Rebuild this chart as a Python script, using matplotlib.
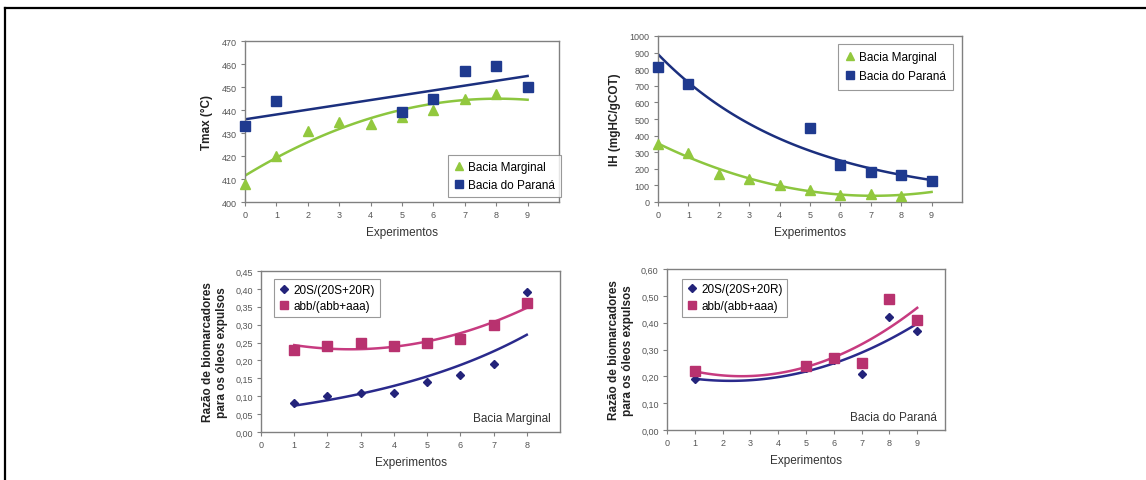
import numpy as np
import matplotlib
matplotlib.use("Agg")
import matplotlib.pyplot as plt
from matplotlib.lines import Line2D
from matplotlib.ticker import FuncFormatter

plt.rcParams['font.family'] = ['Liberation Sans', 'DejaVu Sans']

# ---------------- data ----------------
# Panel 1: Tmax
tmax_marg_x = [0, 1, 2, 3, 4, 5, 6, 7, 8]
tmax_marg_y = [408, 420, 431, 435, 434, 437, 440, 445, 447]
tmax_par_x = [0, 1, 5, 6, 7, 8, 9]
tmax_par_y = [433, 444, 439, 445, 457, 459, 450]

# Panel 2: IH
ih_marg_x = [0, 1, 2, 3, 4, 5, 6, 7, 8]
ih_marg_y = [347, 297, 171, 141, 100, 72, 42, 46, 36]
ih_par_x = [0, 1, 5, 6, 7, 8, 9]
ih_par_y = [813, 713, 444, 223, 181, 163, 127]

# Panel 3: biomarkers, Bacia Marginal
bm_x = [1, 2, 3, 4, 5, 6, 7, 8]
bm_20s = [0.08, 0.10, 0.11, 0.11, 0.14, 0.16, 0.19, 0.39]
bm_abb = [0.23, 0.24, 0.25, 0.24, 0.25, 0.26, 0.30, 0.36]

# Panel 4: biomarkers, Bacia do Paraná
bp_x = [1, 5, 6, 7, 8, 9]
bp_20s = [0.19, 0.23, 0.26, 0.21, 0.42, 0.37]
bp_abb = [0.22, 0.24, 0.27, 0.25, 0.49, 0.41]

GREEN = '#92C83E'
GREEN_L = '#8CC63F'
BLUE = '#1F3A8F'
BLUE_L = '#1B2F7E'
NAVY = '#23237A'
NAVY_L = '#2A2A8C'
MAG = '#B8326F'
MAG_L = '#C73B80'
GRAY = '#808080'
TXT = '#555555'

fig = plt.figure(figsize=(11.46, 4.81), dpi=100)
W, H = 1146, 481


def add_ax(l, r, t, b):
    return fig.add_axes([l / W, 1 - b / H, (r - l) / W, (b - t) / H])


def style(ax):
    for s in ax.spines.values():
        s.set_color(GRAY)
        s.set_linewidth(1.0)
    ax.tick_params(direction='out', length=3, width=0.8, colors=GRAY,
                   labelcolor=TXT, labelsize=6.5, pad=3)
    ax.set_xlabel('Experimentos', fontsize=8.5, color='#333333', labelpad=5)


def poly_line(x, y, deg, x0, x1):
    c = np.polyfit(x, y, deg)
    xs = np.linspace(x0, x1, 100)
    return xs, np.polyval(c, xs)


def exp_line(x, y, x0, x1):
    c = np.polyfit(x, np.log(y), 1)
    xs = np.linspace(x0, x1, 100)
    return xs, np.exp(np.polyval(c, xs))


def legend(ax, **kw):
    leg = ax.legend(fontsize=8.5, frameon=True, fancybox=False, edgecolor=GRAY,
                    handletextpad=0.3, handlelength=0.9, borderaxespad=0.0,
                    markerscale=0.9, **kw)
    leg.get_frame().set_linewidth(0.8)
    return leg


comma = FuncFormatter(lambda v, p: f'{v:.2f}'.replace('.', ','))
mk = dict(ls='none', clip_on=False)

# ---- Panel 1 ----
ax1 = add_ax(245, 559, 42, 203)
style(ax1)
xs, ys = poly_line(tmax_marg_x, tmax_marg_y, 2, 0, 9)
ax1.plot(xs, ys, color=GREEN_L, lw=1.8, zorder=2)
xs, ys = poly_line(tmax_par_x, tmax_par_y, 1, 0, 9)
ax1.plot(xs, ys, color=BLUE_L, lw=1.8, zorder=2)
ax1.plot(tmax_marg_x, tmax_marg_y, '^', color=GREEN, ms=6.5, mec=GREEN,
         zorder=3, label='Bacia Marginal', **mk)
ax1.plot(tmax_par_x, tmax_par_y, 's', color=BLUE, ms=6.5, mec=BLUE,
         zorder=4, label='Bacia do Paraná', **mk)
ax1.set_xlim(0, 10)
ax1.set_xticks(range(10))
ax1.set_ylim(400, 470)
ax1.set_yticks(range(400, 471, 10))
ax1.set_ylabel('Tmax (°C)', fontsize=8.5, fontweight='bold', color='#222222', labelpad=6)
legend(ax1, loc='lower right', bbox_to_anchor=(1.005, 0.03), borderpad=0.5,
       labelspacing=0.5)

# ---- Panel 2 ----
ax2 = add_ax(658, 962, 37, 203)
style(ax2)
xs, ys = poly_line(ih_marg_x, ih_marg_y, 2, 0, 9)
ax2.plot(xs, ys, color=GREEN_L, lw=1.8, zorder=2)
xs, ys = exp_line(ih_par_x, ih_par_y, 0, 9)
ax2.plot(xs, ys, color=BLUE_L, lw=1.8, zorder=2)
ax2.plot(ih_marg_x, ih_marg_y, '^', color=GREEN, ms=6.5, mec=GREEN,
         zorder=3, label='Bacia Marginal', **mk)
ax2.plot(ih_par_x, ih_par_y, 's', color=BLUE, ms=6.5, mec=BLUE,
         zorder=4, label='Bacia do Paraná', **mk)
ax2.set_xlim(0, 10)
ax2.set_xticks(range(10))
ax2.set_ylim(0, 1000)
ax2.set_yticks(range(0, 1001, 100))
ax2.set_ylabel('IH (mgHC/gCOT)', fontsize=8.5, fontweight='bold', color='#222222', labelpad=6)
legend(ax2, loc='upper right', bbox_to_anchor=(0.97, 0.95), borderpad=0.6,
       labelspacing=0.6)

# ---- Panel 3 ----
ax3 = add_ax(261, 560, 272, 433)
style(ax3)
xs, ys = exp_line(bm_x, bm_20s, 1, 8)
ax3.plot(xs, ys, color=NAVY_L, lw=1.8, zorder=2)
xs, ys = poly_line(bm_x, bm_abb, 2, 1, 8)
ax3.plot(xs, ys, color=MAG_L, lw=1.8, zorder=2)
ax3.plot(bm_x, bm_20s, 'D', color=NAVY, ms=4.5, mec=NAVY,
         zorder=3, label='20S/(20S+20R)', **mk)
ax3.plot(bm_x, bm_abb, 's', color=MAG, ms=6.5, mec=MAG,
         zorder=4, label='abb/(abb+aaa)', **mk)
ax3.set_xlim(0, 9)
ax3.set_xticks(range(9))
ax3.set_ylim(0, 0.45)
ax3.set_yticks(np.arange(0, 0.451, 0.05))
ax3.yaxis.set_major_formatter(comma)
ax3.set_ylabel('Razão de biomarcadores\npara os óleos expulsos', fontsize=8.5,
               fontweight='bold', color='#222222', labelpad=5, linespacing=1.2)
legend(ax3, loc='upper left', bbox_to_anchor=(0.045, 0.95), borderpad=0.4,
       labelspacing=0.4)
ax3.text(0.97, 0.09, 'Bacia Marginal', transform=ax3.transAxes, ha='right',
         va='center', fontsize=8.5, color='#333333')

# ---- Panel 4 ----
ax4 = add_ax(667, 945, 270, 431)
style(ax4)
xs, ys = poly_line(bp_x, bp_20s, 2, 1, 9)
ax4.plot(xs, ys, color=NAVY_L, lw=1.8, zorder=2)
xs, ys = poly_line(bp_x, bp_abb, 2, 1, 9)
ax4.plot(xs, ys, color=MAG_L, lw=1.8, zorder=2)
ax4.plot(bp_x, bp_20s, 'D', color=NAVY, ms=4.5, mec=NAVY,
         zorder=3, label='20S/(20S+20R)', **mk)
ax4.plot(bp_x, bp_abb, 's', color=MAG, ms=6.5, mec=MAG,
         zorder=4, label='abb/(abb+aaa)', **mk)
ax4.set_xlim(0, 10)
ax4.set_xticks(range(10))
ax4.set_ylim(0, 0.6)
ax4.set_yticks(np.arange(0, 0.601, 0.1))
ax4.yaxis.set_major_formatter(comma)
ax4.set_ylabel('Razão de biomarcadores\npara os óleos expulsos', fontsize=8.5,
               fontweight='bold', color='#222222', labelpad=5, linespacing=1.2)
legend(ax4, loc='upper left', bbox_to_anchor=(0.055, 0.94), borderpad=0.4,
       labelspacing=0.4)
ax4.text(0.97, 0.08, 'Bacia do Paraná', transform=ax4.transAxes, ha='right',
         va='center', fontsize=8.5, color='#333333')

# outer frame (top and left edges)
fig.add_artist(Line2D([5 / W, 1.0], [1 - 9.3 / H, 1 - 9.3 / H], color='black',
                      lw=1.6, transform=fig.transFigure))
fig.add_artist(Line2D([5 / W, 5 / W], [1 - 9.3 / H, 0.0], color='black',
                      lw=1.6, transform=fig.transFigure))

fig.savefig('out.png', dpi=100, facecolor='white')
